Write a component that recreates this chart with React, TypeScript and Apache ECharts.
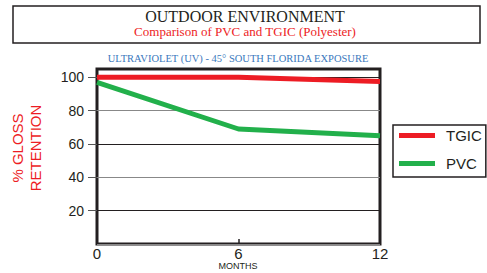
import React, { useEffect, useRef } from "react";
import * as echarts from "echarts";

const months = [0, 6, 12];
const tgic = [100, 100, 97.5];
const pvc = [97, 69, 65];
const seriesNames = ["TGIC", "PVC"];
const title = "OUTDOOR ENVIRONMENT";
const subtitle = "Comparison of PVC and TGIC (Polyester)";
const exposure = "ULTRAVIOLET (UV) - 45\u00b0 SOUTH FLORIDA EXPOSURE";
const xName = "MONTHS";

export default function App() {
  const ref = useRef<HTMLDivElement>(null);
  useEffect(() => {
    if (!ref.current) return;
    document.body.style.margin = "0";
    const chart = echarts.init(ref.current, undefined, { renderer: "svg" });
    const dark = "#231f20";
    chart.setOption({
      animation: false,
      backgroundColor: "#ffffff",
      grid: {
        left: 97,
        right: 107,
        top: 69,
        bottom: 29,
        outerBoundsMode: "none",
        containLabel: false,
        show: true,
        borderColor: dark,
        borderWidth: 3,
        backgroundColor: "transparent",
      },
      xAxis: {
        type: "value",
        min: 0,
        max: 12,
        interval: 6,
        axisLine: { show: false },
        axisTick: { show: true, inside: true, length: 5, lineStyle: { color: dark, width: 1.5 } },
        axisLabel: { fontFamily: "Liberation Sans", fontSize: 15, color: dark, margin: 2 },
        splitLine: { show: false },
      },
      yAxis: {
        type: "value",
        min: 0,
        max: 105,
        interval: 20,
        axisLine: { show: false },
        axisTick: { show: true, length: 9, lineStyle: { color: "#555", width: 1 } },
        axisLabel: {
          fontFamily: "Liberation Sans",
          fontSize: 14,
          color: dark,
          margin: 13,
          showMinLabel: false,
          showMaxLabel: false,
        },
        splitLine: { show: true, lineStyle: { color: ["#888888", dark, "#888888", dark, "#888888", dark, dark], width: 1 } },
      },
      legend: {
        orient: "vertical",
        left: 393,
        top: 125,
        data: seriesNames,
        icon: "rect",
        itemWidth: 36,
        itemHeight: 5,
        itemGap: 13,
        padding: [3, 4, 6, 6],
        borderColor: dark,
        borderWidth: 1.5,
        textStyle: { fontFamily: "Liberation Sans", fontSize: 15, color: dark, padding: [0, 0, 0, 6] },
      },
      graphic: [
        {
          type: "rect",
          shape: { x: 13, y: 6, width: 467, height: 37 },
          style: { fill: "none", stroke: dark, lineWidth: 1.5 },
        },
        {
          type: "text",
          x: 245,
          y: 16,
          style: { text: title, align: "center", verticalAlign: "middle", font: "16px 'Liberation Serif'", fill: dark },
        },
        {
          type: "text",
          x: 245,
          y: 31,
          style: { text: subtitle, align: "center", verticalAlign: "middle", font: "13px 'Liberation Serif'", fill: "#ed1c24" },
        },
        {
          type: "text",
          x: 238,
          y: 58,
          style: { text: exposure, align: "center", verticalAlign: "middle", font: "10.5px 'Liberation Serif'", fill: "#3a78bd" },
        },
        {
          type: "text",
          x: 238,
          y: 266,
          style: { text: xName, align: "center", verticalAlign: "middle", font: "9px 'Liberation Sans'", fill: dark },
        },
        {
          type: "text",
          x: 26,
          y: 148,
          rotation: Math.PI / 2,
          style: {
            text: "% GLOSS\nRETENTION",
            align: "center",
            verticalAlign: "middle",
            font: "15px 'Liberation Sans'",
            lineHeight: 18,
            fill: "#ed1c24",
          },
        },
      ],
      series: [
        {
          name: seriesNames[0],
          type: "line",
          data: months.map((m, i) => [m, tgic[i]]),
          symbol: "none",
          itemStyle: { color: "#ed1c24" },
          lineStyle: { color: "#ed1c24", width: 5 },
          z: 3,
        },
        {
          name: seriesNames[1],
          type: "line",
          data: months.map((m, i) => [m, pvc[i]]),
          symbol: "none",
          itemStyle: { color: "#22b04b" },
          lineStyle: { color: "#22b04b", width: 5 },
          z: 2,
        },
      ],
    });
    return () => chart.dispose();
  }, []);
  return <div ref={ref} style={{ width: 487, height: 273 }} />;
}
